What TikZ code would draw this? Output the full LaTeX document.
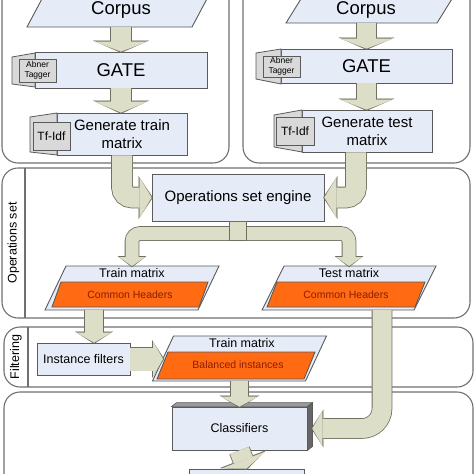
\documentclass[tikz,border=0pt]{standalone}
\usepackage{fontspec}
\setmainfont{Liberation Sans}
\usetikzlibrary{arrows.meta, calc}

\definecolor{boxfill}{HTML}{E6ECF7}
\definecolor{boxline}{HTML}{5A5A5A}
\definecolor{arrowfill}{HTML}{DCDEC8}
\definecolor{arrowline}{HTML}{6F705F}
\definecolor{tagfill}{HTML}{D9D9D9}
\definecolor{panelline}{HTML}{707070}
\definecolor{headfill}{HTML}{FF6A13}
\definecolor{headtext}{HTML}{8B1E00}

% parallelogramma attorno a un nodo: nome, mezza inclinazione, colore
\newcommand{\paral}[3]{\filldraw[draw=boxline, line width=0.9pt, fill=#3]
  ($(#1.south west)+(-#2,0)$) -- ($(#1.south east)+(-#2,0)$) --
  ($(#1.north east)+(#2,0)$) -- ($(#1.north west)+(#2,0)$) -- cycle;}

\tikzset{
  panel/.style={draw=panelline, line width=1.1pt, rounded corners=16pt, fill=white},
  box/.style={draw=boxline, fill=boxfill, line width=0.9pt, inner sep=0pt, align=center},
  holder/.style={inner sep=0pt, outer sep=0pt},
  tagbox/.style={draw=boxline, fill=tagfill, line width=0.8pt, inner sep=0pt, align=center},
  fat/.style n args={3}{draw=arrowfill, line width=#1,
    -{Triangle[width=#2, length=#3, line width=0.01pt]},
    preaction={draw=arrowline, line width=#1+1.6pt, shorten >=-1.2pt,
      -{Triangle[width=#2+2.6pt, length=#3+2.2pt, line width=0.01pt]}}},
  txtbig/.style={font=\fontsize{18.5}{20}\selectfont},
  txtmid/.style={font=\fontsize{15}{18}\selectfont},
  txtnorm/.style={font=\fontsize{12.5}{14}\selectfont},
  txtsmall/.style={font=\fontsize{10.5}{12}\selectfont, text=headtext},
  txttag/.style={font=\fontsize{8.5}{10.5}\selectfont},
}

\begin{document}
\begin{tikzpicture}[x=1pt, y=-1pt]
  \useasboundingbox (0,0) rectangle (474,474);
  \clip (0,0) rectangle (474,474);

  % Pannelli
  \draw[panel] (2,-30) rectangle (229,163);
  \draw[panel] (243,-30) rectangle (470,163);
  \draw[panel] (2,168) rectangle (470,318);
  \draw[panelline, line width=1.1pt] (25,168) -- (25,318);
  \draw[panel] (4,327) rectangle (473,387);
  \draw[panelline, line width=1.1pt] (28,327) -- (28,387);
  \draw[panel] (4,392) rectangle (473,520);
  \node[rotate=90, txtnorm] (opsLabel) at (13.5,243) {Operations set};
  \node[rotate=90, txtnorm] (filtLabel) at (16,357) {Filtering};

  % Train (sinistra)
  \node[holder, minimum width=165pt, minimum height=47pt] (corpusL) at (122,3.5) {};
  \paral{corpusL}{12.5}{boxfill}
  \node[txtbig, anchor=base] (corpusLtxt) at (121,14.5) {Corpus};
  \node[box, minimum width=172pt, minimum height=36pt, txtbig] (gateL) at (121,70) {GATE};
  \filldraw[tagbox] (12,57) -- (35,53) -- (35,87) -- (12,84) -- cycle;
  \node[tagbox, minimum width=37pt, minimum height=23pt, txttag] (abnerL) at (37.5,70.5) {Abner\\Tagger};
  \node[box, minimum width=130pt, minimum height=42pt, txtmid] (genL) at (122,134) {Generate train\\matrix};
  \filldraw[tagbox] (30,117) -- (57,113) -- (57,155) -- (30,152) -- cycle;
  \node[tagbox, minimum width=37pt, minimum height=28pt, font=\fontsize{12}{14}\selectfont] (tfL) at (51.5,136) {Tf-Idf};

  % Test (destra)
  \node[holder, minimum width=151pt, minimum height=45pt] (corpusR) at (375.5,0.5) {};
  \paral{corpusR}{14}{boxfill}
  \node[txtbig, anchor=base] (corpusRtxt) at (366,14.5) {Corpus};
  \node[box, minimum width=171pt, minimum height=34pt, txtbig] (gateR) at (366.5,66) {GATE};
  \filldraw[tagbox] (256,53) -- (281,49) -- (281,84) -- (256,79) -- cycle;
  \node[tagbox, minimum width=37pt, minimum height=21pt, txttag] (abnerR) at (281.5,66.5) {Abner\\Tagger};
  \node[box, minimum width=130pt, minimum height=42pt, txtmid] (genR) at (367,131) {Generate test\\matrix};
  \filldraw[tagbox] (274,115) -- (302,110) -- (302,152) -- (274,147) -- cycle;
  \node[tagbox, minimum width=38pt, minimum height=28pt, font=\fontsize{12}{14}\selectfont] (tfR) at (295,131) {Tf-Idf};

  % Operations set
  \node[box, minimum width=172pt, minimum height=47pt, txtmid] (eng) at (238,197.5) {Operations set engine};
  \node[holder, minimum width=153pt, minimum height=44pt] (trainO) at (132,288) {};
  \paral{trainO}{10.5}{boxfill}
  \node[txtnorm] (trainOtxt) at (132,273) {Train matrix};
  \node[holder, minimum width=147pt, minimum height=25pt] (headO) at (130,294.5) {};
  \paral{headO}{4.5}{headfill}
  \node[txtsmall] (headOtxt) at (headO) {Common Headers};
  \node[holder, minimum width=152pt, minimum height=44pt] (testO) at (349,288) {};
  \paral{testO}{11}{boxfill}
  \node[txtnorm] (testOtxt) at (349,273) {Test matrix};
  \node[holder, minimum width=148pt, minimum height=25pt] (headT) at (346,294.5) {};
  \paral{headT}{5}{headfill}
  \node[txtsmall] (headTtxt) at (headT) {Common Headers};

  % Filtering
  \node[box, minimum width=93pt, minimum height=32pt, txtnorm] (instF) at (83.5,359) {Instance filters};
  \node[holder, minimum width=153pt, minimum height=45pt] (trainF) at (239.5,358.5) {};
  \paral{trainF}{10.5}{boxfill}
  \node[txtnorm] (trainFtxt) at (242,343) {Train matrix};
  \node[holder, minimum width=147pt, minimum height=27pt] (balF) at (236,365.5) {};
  \paral{balF}{5.5}{headfill}
  \node[txtsmall] (balFtxt) at (238,364.5) {Balanced instances};

  % Classificazione
  \node[box, minimum width=135pt, minimum height=43pt, txtnorm] (classif) at (239.5,428.5) {Classifiers};
  \filldraw[draw=boxline, fill=black!40, line width=0.6pt] (classif.north west) -- ++(5,-4) -- ($(classif.north east)+(5,-4)$) -- (classif.north east) -- cycle;
  \filldraw[draw=boxline, fill=black!60, line width=0.6pt] (classif.north east) -- ++(5,-4) -- ($(classif.south east)+(5,-4)$) -- (classif.south east) -- cycle;
  \node[box, minimum width=115pt, minimum height=42pt] (nextStep) at (246.5,490) {};

  % Frecce
  \draw[fat={20pt}{53pt}{10pt}] (gateL.north |- corpusL.south) -- (gateL.north);
  \draw[fat={20pt}{53pt}{11pt}] (gateL.south) -- (gateL.south |- genL.north);
  \draw[fat={19pt}{53pt}{10pt}] (gateR.north |- corpusR.south) -- (gateR.north);
  \draw[fat={19pt}{53pt}{10pt}] (gateR.south) -- (gateR.south |- genR.north);
  \draw[fat={20pt}{40pt}{12pt}, rounded corners=10pt] (genL.south) |- (eng.west);
  \draw[fat={20pt}{40pt}{12pt}, rounded corners=10pt] ($(genR.south)+(-11,0)$) |- (eng.east);

  \coordinate (split) at (238,233.5);
  \draw[fat={13pt}{26pt}{9pt}, rounded corners=8pt] (split) -| (trainO.north);
  \draw[fat={13pt}{26pt}{9pt}, rounded corners=8pt] (split) -| (testO.north);
  \node[draw=arrowline, fill=arrowfill, line width=0.8pt, minimum width=17pt, minimum height=19pt, inner sep=0pt] (hub) at (238,230.5) {};

  \coordinate (filtIn) at ($(instF.north)+(10.5,0)$);
  \draw[fat={18pt}{35pt}{10pt}] (filtIn |- trainO.south) -- (filtIn);
  \draw[fat={23pt}{35pt}{10pt}] (instF.east) -- (instF.east -| trainF.west);
  \draw[fat={17pt}{37pt}{10pt}] (classif.north |- trainF.south) -- (classif.north);
  \coordinate (testOut) at ($(testO.south)+(33,0)$);
  \draw[fat={19pt}{35pt}{10pt}, rounded corners=20pt] (testOut) |- ($(classif.east)+(5,0)$);
  \draw[fat={20pt}{46pt}{9pt}] (classif.south) -- (nextStep.north);
\end{tikzpicture}
\end{document}
